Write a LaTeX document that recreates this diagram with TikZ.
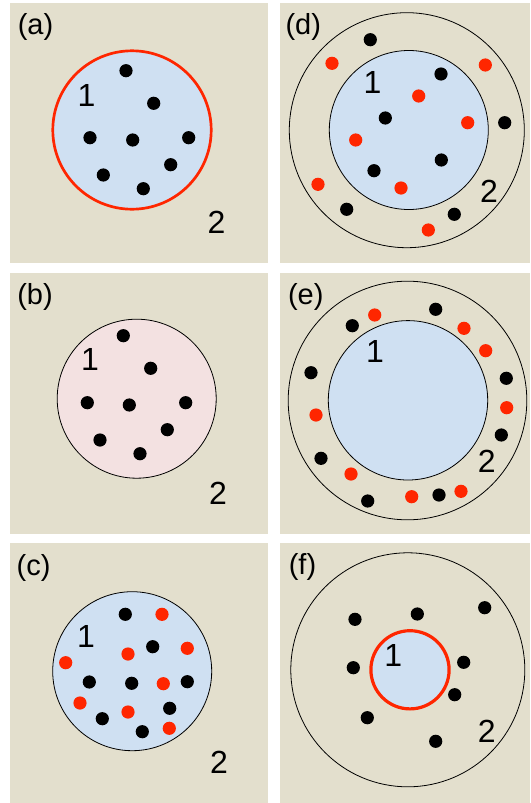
\documentclass[tikz,border=0pt]{standalone}
\usepackage{fontspec}
\setmainfont{Liberation Sans}
\definecolor{bg}{RGB}{227,223,205}
\definecolor{cellblue}{RGB}{207,224,242}
\definecolor{cellpink}{RGB}{243,225,225}
\definecolor{redc}{RGB}{255,38,0}
\begin{document}
\begin{tikzpicture}[x=1pt,y=-1pt,
  panel/.style={fill=bg},
  bdot/.style={fill=black},
  rdot/.style={fill=redc},
  ring/.style={draw=black,line width=0.8pt},
  redring/.style={draw=redc,line width=2.7pt},
  plabel/.style={font=\fontsize{29}{30}\selectfont,inner sep=0pt},
  nlabel/.style={font=\fontsize{32}{34}\selectfont,inner sep=0pt}]
\useasboundingbox (0,0) rectangle (530,803);
\fill[white] (0,0) rectangle (530,803);
% panels
\fill[panel] (10,3) rectangle (268,263);
\fill[panel] (10,273) rectangle (268,534);
\fill[panel] (10,543) rectangle (268,803);
\fill[panel] (280,3) rectangle (530,263);
\fill[panel] (280,273) rectangle (530,534);
\fill[panel] (280,543) rectangle (530,803);

% (a)
\draw[redring,fill=cellblue] (132,130) circle[radius=79.2pt];
\foreach \p in {(126,70.7),(153.7,103.3),(90,137.7),(132.7,140),(188.7,137.7),(170.7,164.7),(103.3,175),(143.3,188.7)}
  \fill[bdot] \p circle[radius=6.6pt];
\node[plabel] (la) at (35.5,26.5) {(a)};
\node[nlabel] (a1) at (86.5,95) {1};
\node[nlabel] (a2) at (216.5,222) {2};

% (b)
\draw[ring,fill=cellpink] (136.7,398.7) circle[radius=79.5pt];
\foreach \p in {(123.3,335.7),(150.7,368.3),(87.3,402.7),(129.3,405),(185.7,402.7),(167.3,429.7),(100,440),(140,453.7)}
  \fill[bdot] \p circle[radius=6.6pt];
\node[plabel] (lb) at (35,296.7) {(b)};
\node[nlabel] (b1) at (90,359) {1};
\node[nlabel] (b2) at (218,493) {2};

% (c)
\draw[ring,fill=cellblue] (132.2,671.2) circle[radius=79.5pt];
\foreach \p in {(125.3,614.3),(152.7,646.7),(89.3,682),(131.7,683.3),(187.3,681.7),(169.7,708.3),(102.3,718.7),(142.3,731.7)}
  \fill[bdot] \p circle[radius=6.6pt];
\foreach \p in {(162,614.3),(187.3,648.3),(128,654),(65.7,662.7),(163.3,683.7),(80,703),(128,712),(169.3,728.3)}
  \fill[rdot] \p circle[radius=6.6pt];
\node[plabel] (lc) at (33.5,568.3) {(c)};
\node[nlabel] (c1) at (86,636.7) {1};
\node[nlabel] (c2) at (219,762.5) {2};

% (d)
\draw[ring] (406.8,130.2) circle[radius=117.5pt];
\draw[ring,fill=cellblue] (408.8,130) circle[radius=79.5pt];
\foreach \p in {(370.3,39.7),(441,74),(385.3,118),(504.7,122.7),(441.3,160),(374,170.7),(346.7,209.3),(454.3,214.3)}
  \fill[bdot] \p circle[radius=6.6pt];
\foreach \p in {(332,63.3),(485.3,65),(418.7,96),(467.7,122.7),(355.7,140),(318,184.3),(401,188),(428.3,230)}
  \fill[rdot] \p circle[radius=6.6pt];
\node[plabel] (ld) at (303.3,26.7) {(d)};
\node[nlabel] (d1) at (372.5,82.5) {1};
\node[nlabel] (d2) at (489,191) {2};

% (e)
\draw[ring] (407.5,400.5) circle[radius=119.3pt];
\draw[ring,fill=cellblue] (408,400.3) circle[radius=79.7pt];
\foreach \p in {(435.7,309.3),(352.3,325.7),(311,372.7),(506.3,378.3),(501.3,435),(321,458.3),(439,495),(367.7,501)}
  \fill[bdot] \p circle[radius=6.6pt];
\foreach \p in {(374.7,315),(464,328.3),(485.7,350.7),(316,415),(506.7,407.7),(351,474),(411.7,496.7),(461,491.3)}
  \fill[rdot] \p circle[radius=6.6pt];
\node[plabel] (le) at (305.8,296.7) {(e)};
\node[nlabel] (e1) at (375,351.7) {1};
\node[nlabel] (e2) at (486.7,461.7) {2};

% (f)
\draw[ring] (407.8,669.8) circle[radius=117pt];
\draw[draw=redc,line width=3.2pt,fill=cellblue] (410,669.8) circle[radius=39.1pt];
\foreach \p in {(355,619.3),(417.3,614),(484.7,607.7),(353.3,667.7),(463.7,662.3),(454.7,694.7),(367.3,717.7),(435.7,741.3)}
  \fill[bdot] \p circle[radius=6.6pt];
\node[plabel] (lf) at (302.5,566.7) {(f)};
\node[nlabel] (f1) at (393.3,655) {1};
\node[nlabel] (f2) at (486.7,731.7) {2};
\end{tikzpicture}
\end{document}
